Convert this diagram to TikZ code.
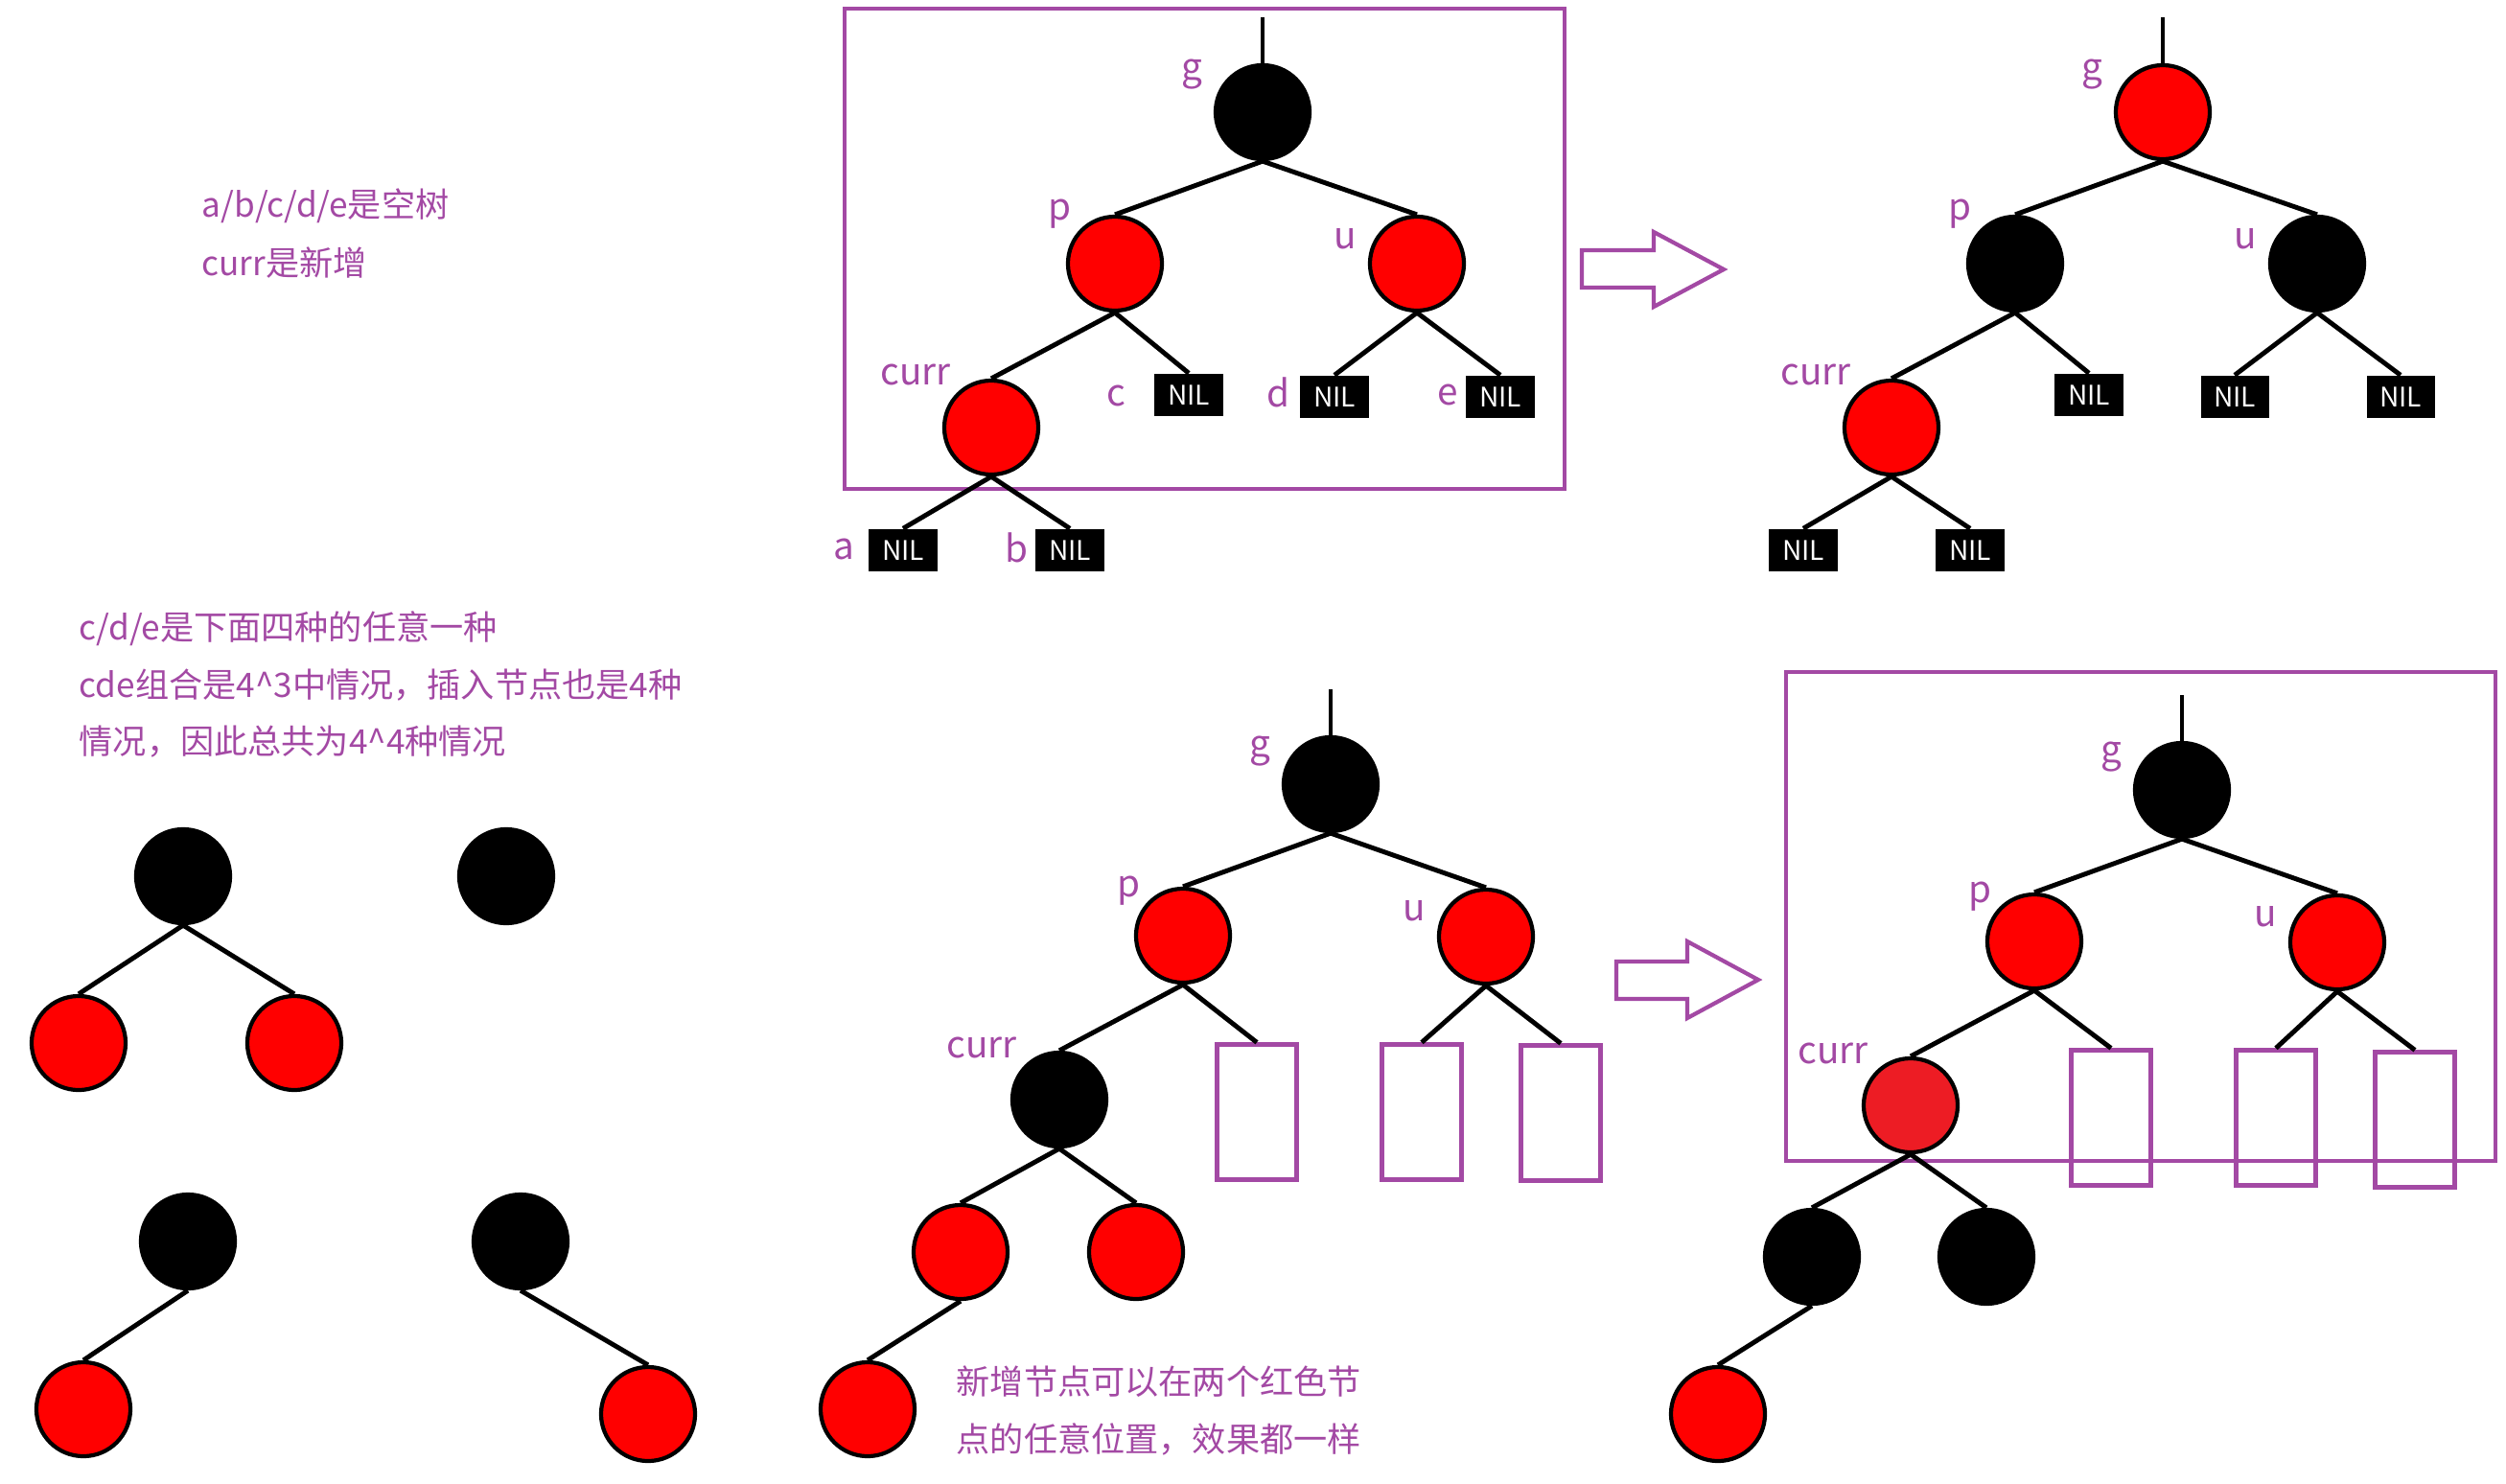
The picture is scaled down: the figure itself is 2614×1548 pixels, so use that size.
\documentclass[tikz,border=0pt]{standalone}
\usepackage{fontspec}
\setmainfont{Noto Sans CJK SC}
\usetikzlibrary{calc}
\definecolor{paintpurple}{RGB}{163,73,164}
\definecolor{paintred}{RGB}{237,28,36}
\tikzset{rb/.style = {circle, draw=black, line width=1.2pt, minimum size=0.98cm, inner sep=0pt}}
\tikzset{rn/.style = {rb, fill=red}, bn/.style = {rb, fill=black}}
\tikzset{nil/.style = {fill=black, text=white, minimum width=0.71cm, minimum height=0.44cm, inner sep=0pt, font=\fontsize{8}{9}\selectfont}}
\tikzset{slot/.style = {draw=paintpurple, line width=1.2pt, minimum width=0.83cm, minimum height=1.41cm, inner sep=0pt}}
\tikzset{lbl/.style = {text=paintpurple, anchor=base, inner sep=0pt, font=\fontsize{11}{13}\selectfont}}
\tikzset{note/.style = {text=paintpurple, anchor=west, inner sep=0pt, font=\fontsize{10}{12}\selectfont}}
\tikzset{edge/.style = {line width=1.4pt}, frame/.style = {draw=paintpurple, line width=1.2pt}}

\begin{document}
\begin{tikzpicture}[x=0.01cm, y=-0.01cm]
\useasboundingbox (0,0) rectangle (2614,1548);

% notes
\node[note] (note1) at (210,215) {a/b/c/d/e是空树};
\node[note] (note2) at (210,274) {curr是新增};
\node[note] (note3) at (82,656) {c/d/e是下面四种的任意一种};
\node[note] (note4) at (82,715) {cde组合是4\textasciicircum3中情况，插入节点也是4种};
\node[note] (note5) at (82,774) {情况，因此总共为4\textasciicircum4种情况};

% before
\draw[frame] (881,9) rectangle (1632,510);
\coordinate (Atop) at (1317,18);
\node[bn] (Ag) at (1317,117) {};
\node[rn] (Ap) at (1163,275) {};
\node[rn] (Au) at (1478,275) {};
\node[rn] (Acurr) at (1034,446) {};
\node[nil] (Ac) at (1240,412) {NIL};
\node[nil] (Ad) at (1392,414) {NIL};
\node[nil] (Ae) at (1565,414) {NIL};
\node[nil] (Aa) at (942,574) {NIL};
\node[nil] (Ab) at (1116,574) {NIL};
\draw[edge] (Atop) -- (Ag.north);
\foreach \a/\b in {Ag/Ap, Ag/Au, Ap/Acurr, Ap/Ac, Au/Ad, Au/Ae, Acurr/Aa, Acurr/Ab}
  \draw[edge] (\a.south) -- (\b.north);
\node[lbl] (Ag-l) at (1243,83) {g};
\node[lbl] (Ap-l) at (1105,229) {p};
\node[lbl] (Au-l) at (1403,259) {u};
\node[lbl] (Acurr-l) at (955,401) {curr};
\node[lbl] (Ac-l) at (1164,423) {c};
\node[lbl] (Ad-l) at (1333,424) {d};
\node[lbl] (Ae-l) at (1510,422) {e};
\node[lbl] (Aa-l) at (880,583) {a};
\node[lbl] (Ab-l) at (1060,586) {b};

\draw[frame] (1650,261) -- (1725,261) -- (1725,242) -- (1798,281) -- (1725,320) -- (1725,300) -- (1650,300) -- cycle;

% after
\coordinate (Btop) at (2256,18);
\node[rn] (Bg) at (2256,117) {};
\node[bn] (Bp) at (2102,275) {};
\node[bn] (Bu) at (2417,275) {};
\node[rn] (Bcurr) at (1973,446) {};
\node[nil] (Bc) at (2179,412) {NIL};
\node[nil] (Bd) at (2331,414) {NIL};
\node[nil] (Be) at (2504,414) {NIL};
\node[nil] (Ba) at (1881,574) {NIL};
\node[nil] (Bb) at (2055,574) {NIL};
\draw[edge] (Btop) -- (Bg.north);
\foreach \a/\b in {Bg/Bp, Bg/Bu, Bp/Bcurr, Bp/Bc, Bu/Bd, Bu/Be, Bcurr/Ba, Bcurr/Bb}
  \draw[edge] (\a.south) -- (\b.north);
\node[lbl] (Bg-l) at (2182,83) {g};
\node[lbl] (Bp-l) at (2044,229) {p};
\node[lbl] (Bu-l) at (2342,259) {u};
\node[lbl] (Bcurr-l) at (1894,401) {curr};

% four cases
\node[bn] (E1) at (191,914) {};
\node[rn] (E1l) at (82,1088) {};
\node[rn] (E1r) at (307,1088) {};
\node[bn] (E2) at (528,914) {};
\node[bn] (E3) at (196,1295) {};
\node[rn] (E3l) at (87,1470) {};
\node[bn] (E4) at (543,1295) {};
\node[rn] (E4r) at (676,1475) {};
\foreach \a/\b in {E1/E1l, E1/E1r, E3/E3l, E4/E4r}
  \draw[edge] (\a.south) -- (\b.north);

% general case
\coordinate (Ctop) at (1388,719);
\node[bn] (Cg) at (1388,818) {};
\node[rn] (Cp) at (1234,976) {};
\node[rn] (Cu) at (1550,977) {};
\node[bn] (Ccurr) at (1105,1147) {};
\node[slot] (Cs1) at (1311,1160) {};
\node[slot] (Cs2) at (1483,1160) {};
\node[slot] (Cs3) at (1628,1161) {};
\node[rn] (Cl) at (1002,1306) {};
\node[rn] (Cr) at (1185,1306) {};
\node[rn] (Cll) at (905,1470) {};
\draw[edge] (Ctop) -- (Cg.north);
\foreach \a/\b in {Cg/Cp, Cg/Cu, Cp/Ccurr, Cp/Cs1, Cu/Cs2, Cu/Cs3, Ccurr/Cl, Ccurr/Cr, Cl/Cll}
  \draw[edge] (\a.south) -- (\b.north);
\node[lbl] (Cg-l) at (1314,789) {g};
\node[lbl] (Cp-l) at (1177,935) {p};
\node[lbl] (Cu-l) at (1475,960) {u};
\node[lbl] (Ccurr-l) at (1024,1103) {curr};
\node[note] (hint1) at (997,1441) {新增节点可以在两个红色节};
\node[note] (hint2) at (997,1501) {点的任意位置，效果都一样};

\draw[frame] (1686,1003) -- (1760,1003) -- (1760,982) -- (1834,1022) -- (1760,1062) -- (1760,1042) -- (1686,1042) -- cycle;

% general case after
\draw[frame] (1863,701) rectangle (2603,1211);
\coordinate (Dtop) at (2276,725);
\node[bn] (Dg) at (2276,824) {};
\node[rn] (Dp) at (2122,982) {};
\node[rn] (Du) at (2438,983) {};
\node[rb, fill=paintred] (Dcurr) at (1993,1153) {};
\node[slot] (Ds1) at (2202,1166) {};
\node[slot] (Ds2) at (2374,1166) {};
\node[slot] (Ds3) at (2519,1168) {};
\node[bn] (Dl) at (1890,1311) {};
\node[bn] (Dr) at (2072,1311) {};
\node[rn] (Dll) at (1792,1475) {};
\draw[edge] (Dtop) -- (Dg.north);
\foreach \a/\b in {Dg/Dp, Dg/Du, Dp/Dcurr, Dp/Ds1, Du/Ds2, Du/Ds3, Dcurr/Dl, Dcurr/Dr, Dl/Dll}
  \draw[edge] (\a.south) -- (\b.north);
\node[lbl] (Dg-l) at (2202,795) {g};
\node[lbl] (Dp-l) at (2065,941) {p};
\node[lbl] (Du-l) at (2363,966) {u};
\node[lbl] (Dcurr-l) at (1912,1109) {curr};
\end{tikzpicture}
\end{document}
